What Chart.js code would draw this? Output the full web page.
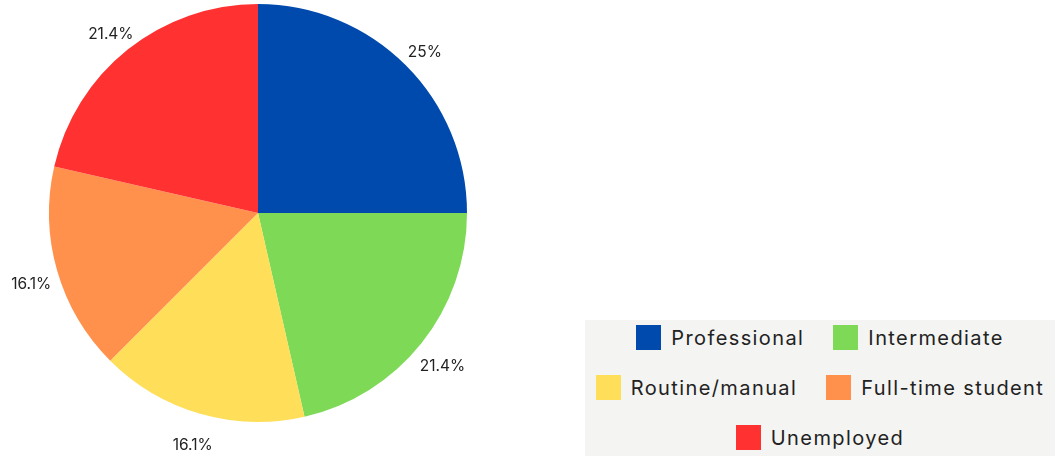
<!DOCTYPE html>
<html>
<head>
<meta charset="utf-8">
<script src="https://cdn.jsdelivr.net/npm/chart.js@4/dist/chart.umd.min.js"></script>
<style>
  html, body { margin: 0; padding: 0; background: #fff; }
  body { width: 1055px; height: 456px; position: relative; overflow: hidden; font-family: Inter, "Noto Sans", sans-serif; }
  #wrap { position: absolute; left: 0; top: 0; width: 516px; height: 456px; }
  #legend {
    position: absolute; left: 585px; top: 320px; width: 470px; height: 136px;
    background: #f4f4f2; display: flex; flex-wrap: wrap; justify-content: center;
    align-content: flex-start; column-gap: 29px; row-gap: 25px; padding-top: 5px; box-sizing: border-box;
  }
  .item { display: flex; align-items: center; height: 25px; font-size: 20px; letter-spacing: 1.4px; color: #222; white-space: nowrap; }
  .box { width: 25px; height: 25px; margin-right: 10px; }
</style>
</head>
<body>
<div id="wrap"><canvas id="c"></canvas></div>
<div id="legend"></div>
<script>
const categories = ["Professional", "Intermediate", "Routine/manual", "Full-time student", "Unemployed"];
const counts = [14, 12, 9, 9, 12];
const pctLabels = ["25%", "21.4%", "16.1%", "16.1%", "21.4%"];
const colors = ["#004aad", "#7ed957", "#ffde59", "#ff914d", "#ff3131"];

// percentage labels outside each slice
const outsideLabels = {
  id: "outsideLabels",
  afterDatasetsDraw(chart) {
    const ctx = chart.ctx;
    const meta = chart.getDatasetMeta(0);
    ctx.save();
    ctx.font = "15.5px Inter, 'Noto Sans', sans-serif";
    ctx.fillStyle = "#222";
    ctx.textAlign = "center";
    ctx.textBaseline = "middle";
    meta.data.forEach((arc, i) => {
      const mid = (arc.startAngle + arc.endAngle) / 2;
      const r = arc.outerRadius + 27;
      ctx.fillText(pctLabels[i], arc.x + Math.cos(mid) * r, arc.y + Math.sin(mid) * r + 6);
    });
    ctx.restore();
  }
};

const chart = new Chart(document.getElementById("c"), {
  type: "pie",
  data: {
    labels: categories,
    datasets: [{ data: counts, backgroundColor: colors, borderWidth: 0 }]
  },
  options: {
    responsive: true,
    maintainAspectRatio: false,
    animation: false,
    layout: { padding: { top: 4, bottom: 34, left: 0, right: 0 } },
    plugins: { legend: { display: false }, tooltip: { enabled: false } }
  },
  plugins: [outsideLabels]
});

const legend = document.getElementById("legend");
categories.forEach((name, i) => {
  const item = document.createElement("div");
  item.className = "item";
  const box = document.createElement("span");
  box.className = "box";
  box.style.background = colors[i];
  item.appendChild(box);
  item.appendChild(document.createTextNode(name));
  legend.appendChild(item);
});
</script>
</body>
</html>
